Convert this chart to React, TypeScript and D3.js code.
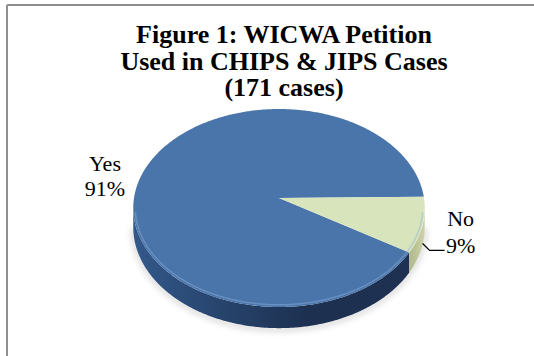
import React from "react";
import * as d3 from "d3";

const categories = ["Yes", "No"];
const values = [91, 9];
const percentLabels = ["91%", "9%"];
const titleLines = ["Figure 1: WICWA Petition", "Used in CHIPS & JIPS Cases", "(171 cases)"];

const W = 534;
const H = 356;
const cx = 279;
const apexY = 198;
const A = 145;
const B = 98;
const E = 0.101;
const DEPTH = 19;
const FIRST_SLICE_DEG = 121.7;

const topColors = ["#4A75AA", "#D8E4BC"];
const sideGrads = ["sideYes", "sideNo"];

function rim(phi: number, dy = 0, shrink = 0): [number, number] {
  const s = Math.sin(phi);
  const k = 1 / (1 - E * s);
  return [cx + (A - shrink) * Math.cos(phi) * k, apexY + (B - shrink) * s * k + dy * k];
}

function arcPoints(p0: number, p1: number, dy = 0, shrink = 0): [number, number][] {
  const n = Math.max(4, Math.ceil(Math.abs(p1 - p0) / 0.01));
  const pts: [number, number][] = [];
  for (let i = 0; i <= n; i++) pts.push(rim(p0 + ((p1 - p0) * i) / n, dy, shrink));
  return pts;
}

export default function App() {
  const pie = d3
    .pie<number>()
    .sort(null)
    .startAngle((FIRST_SLICE_DEG * Math.PI) / 180)
    .endAngle((FIRST_SLICE_DEG * Math.PI) / 180 + 2 * Math.PI);
  const arcs = pie(values);
  const line = d3.line();

  const lo = Math.asin(E);
  const hi = Math.PI - Math.asin(E);

  const sides: { d: string; i: number }[] = [];
  const tops: { d: string; i: number }[] = [];
  arcs.forEach((a, i) => {
    const p0 = a.startAngle - Math.PI / 2;
    const p1 = a.endAngle - Math.PI / 2;
    tops.push({ d: "M" + [cx, apexY].join(",") + "L" + arcPoints(p0, p1).map((p) => p.join(",")).join("L") + "Z", i });
    for (let k = -1; k <= 2; k++) {
      const a0 = Math.max(p0, lo + 2 * Math.PI * k);
      const a1 = Math.min(p1, hi + 2 * Math.PI * k);
      if (a1 > a0) {
        const upper = arcPoints(a0, a1);
        const lower = arcPoints(a0, a1, DEPTH).reverse();
        sides.push({ d: line([...upper, ...lower]) + "Z", i });
      }
    }
  });

  const midYes = (arcs[0].startAngle + arcs[0].endAngle) / 2 - Math.PI / 2;
  const yesAnchor = rim(midYes);
  const midNo = (arcs[1].startAngle + arcs[1].endAngle) / 2 - Math.PI / 2;
  const noStart = rim(midNo, DEPTH * 0.95);
  const leader: [number, number][] = [
    noStart,
    [noStart[0] + 7, noStart[1] + 7],
    [noStart[0] + 22, noStart[1] + 7],
  ];

  const frontRim = arcPoints(lo + 0.05, hi - 0.05, 0, 2);

  return (
    <svg width={W} height={H} style={{ position: "absolute", left: 0, top: 0, background: "#fff" }}>
      <defs>
        <linearGradient id="sideYes" gradientUnits="userSpaceOnUse" x1={cx - A} x2={cx + A} y1={0} y2={0}>
          <stop offset="0" stopColor="#33588A" />
          <stop offset="0.3" stopColor="#27446D" />
          <stop offset="0.6" stopColor="#1D3050" />
          <stop offset="1" stopColor="#1E3152" />
        </linearGradient>
        <linearGradient id="sideNo" gradientUnits="userSpaceOnUse" x1={cx + A * 0.85} x2={cx + A} y1={0} y2={0}>
          <stop offset="0" stopColor="#A4AB7E" />
          <stop offset="1" stopColor="#CDD2A8" />
        </linearGradient>
        <filter id="shadow" x="-20%" y="-20%" width="140%" height="160%">
          <feGaussianBlur stdDeviation="3" />
        </filter>
      </defs>
      <line x1={7} y1={5} x2={W} y2={5} stroke="#8f8f8f" strokeWidth={2} />
      <line x1={7} y1={5} x2={7} y2={H} stroke="#8f8f8f" strokeWidth={2} />

      <g fontFamily="'Liberation Serif','Times New Roman',serif" fontWeight="bold" fontSize={26} textAnchor="middle" fill="#000">
        {titleLines.map((t, i) => (
          <text key={i} x={284} y={43 + i * 26.5}>
            {t}
          </text>
        ))}
      </g>

      <path
        d={line(arcPoints(lo, hi, DEPTH + 1)) || ""}
        fill="none"
        stroke="#000"
        strokeOpacity={0.25}
        strokeWidth={3}
        filter="url(#shadow)"
      />
      {sides.map((s, j) => (
        <path key={"s" + j} d={s.d} fill={`url(#${sideGrads[s.i]})`} />
      ))}
      {tops.map((t, j) => (
        <path key={"t" + j} d={t.d} fill={topColors[t.i]} />
      ))}
      <path d={line(frontRim) || ""} fill="none" stroke="#8FB0DA" strokeOpacity={0.45} strokeWidth={1.5} />

      <g fontFamily="'Liberation Serif','Times New Roman',serif" fontSize={22} textAnchor="middle" fill="#000">
        <text x={yesAnchor[0] - 38} y={yesAnchor[1] - 1}>
          {categories[0]}
        </text>
        <text x={yesAnchor[0] - 38} y={yesAnchor[1] + 24}>
          {percentLabels[0]}
        </text>
        <text x={noStart[0] + 38} y={noStart[1] - 17}>
          {categories[1]}
        </text>
        <text x={noStart[0] + 38} y={noStart[1] + 10}>
          {percentLabels[1]}
        </text>
      </g>
      <path d={line(leader) || ""} fill="none" stroke="#000" strokeWidth={1.2} />
    </svg>
  );
}
